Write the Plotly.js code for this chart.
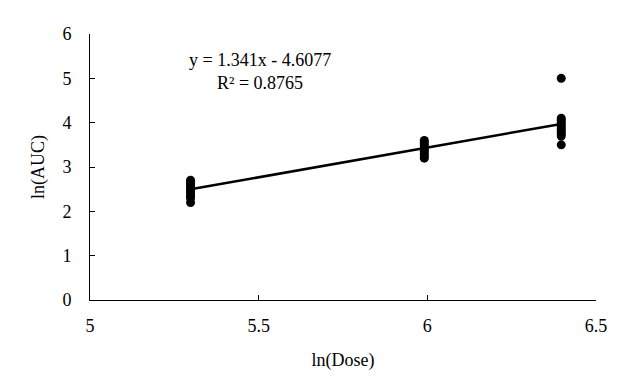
<!DOCTYPE html>
<html>
<head>
<meta charset="utf-8">
<script src="https://cdn.plot.ly/plotly-3.0.1.min.js"></script>
<style>html,body{margin:0;padding:0;background:#fff;}#chart{width:644px;height:382px;}</style>
</head>
<body>
<div id="chart"></div>
<script>
// Data
const doseLn = [5.298, 5.991, 6.397];
const aucLow = [2.2, 2.3, 2.35, 2.4, 2.45, 2.5, 2.55, 2.6, 2.65, 2.7];
const aucMid = [3.2, 3.25, 3.3, 3.35, 3.4, 3.45, 3.5, 3.55, 3.6];
const aucHigh = [3.5, 3.7, 3.75, 3.8, 3.85, 3.9, 3.95, 4.0, 4.05, 4.1, 5.0];
const trendSlope = 1.341;
const trendIntercept = -4.6077;
const rSquared = 0.8765;
const xTicks = [5, 5.5, 6, 6.5];
const yTicks = [0, 1, 2, 3, 4, 5, 6];

const groups = [aucLow, aucMid, aucHigh];
const xs = [], ys = [];
groups.forEach((g, i) => g.forEach(v => { xs.push(doseLn[i]); ys.push(v); }));

const xMin = Math.min(...doseLn), xMax = Math.max(...doseLn);
const font = {family: '"Liberation Serif", "Times New Roman", serif', size: 18, color: '#000'};

const traces = [
  {x: xs, y: ys, mode: 'markers', type: 'scatter',
   marker: {color: '#000', size: 9}, hoverinfo: 'skip'},
  {x: [xMin, xMax], y: [trendSlope * xMin + trendIntercept, trendSlope * xMax + trendIntercept],
   mode: 'lines', type: 'scatter', line: {color: '#000', width: 2.5}, hoverinfo: 'skip'}
];

const layout = {
  width: 644, height: 382,
  margin: {l: 90, r: 48, t: 34, b: 82},
  paper_bgcolor: '#fff', plot_bgcolor: '#fff',
  showlegend: false,
  font: font,
  xaxis: {
    range: [5, 6.5], tickvals: xTicks, ticktext: xTicks.map(String),
    showgrid: false, zeroline: false, showline: true, linecolor: '#000', linewidth: 1,
    ticks: 'inside', ticklen: 5, tickcolor: '#000', ticklabelstandoff: 9,
    title: {text: 'ln(Dose)', font: font, standoff: 18}
  },
  yaxis: {
    range: [0, 6], tickvals: yTicks, ticktext: yTicks.map(String),
    showgrid: false, zeroline: false, showline: true, linecolor: '#000', linewidth: 1,
    ticks: 'inside', ticklen: 5, tickcolor: '#000', ticklabelstandoff: 14,
    title: {text: 'ln(AUC)', font: font, standoff: 13}
  },
  annotations: [{
    x: 5.504, y: 5.15, xref: 'x', yref: 'y', showarrow: false,
    text: 'y = ' + trendSlope + 'x - ' + Math.abs(trendIntercept) + '<br>R² = ' + rSquared,
    align: 'center', font: font
  }]
};

Plotly.newPlot('chart', traces, layout, {displayModeBar: false, staticPlot: true});
</script>
</body>
</html>
